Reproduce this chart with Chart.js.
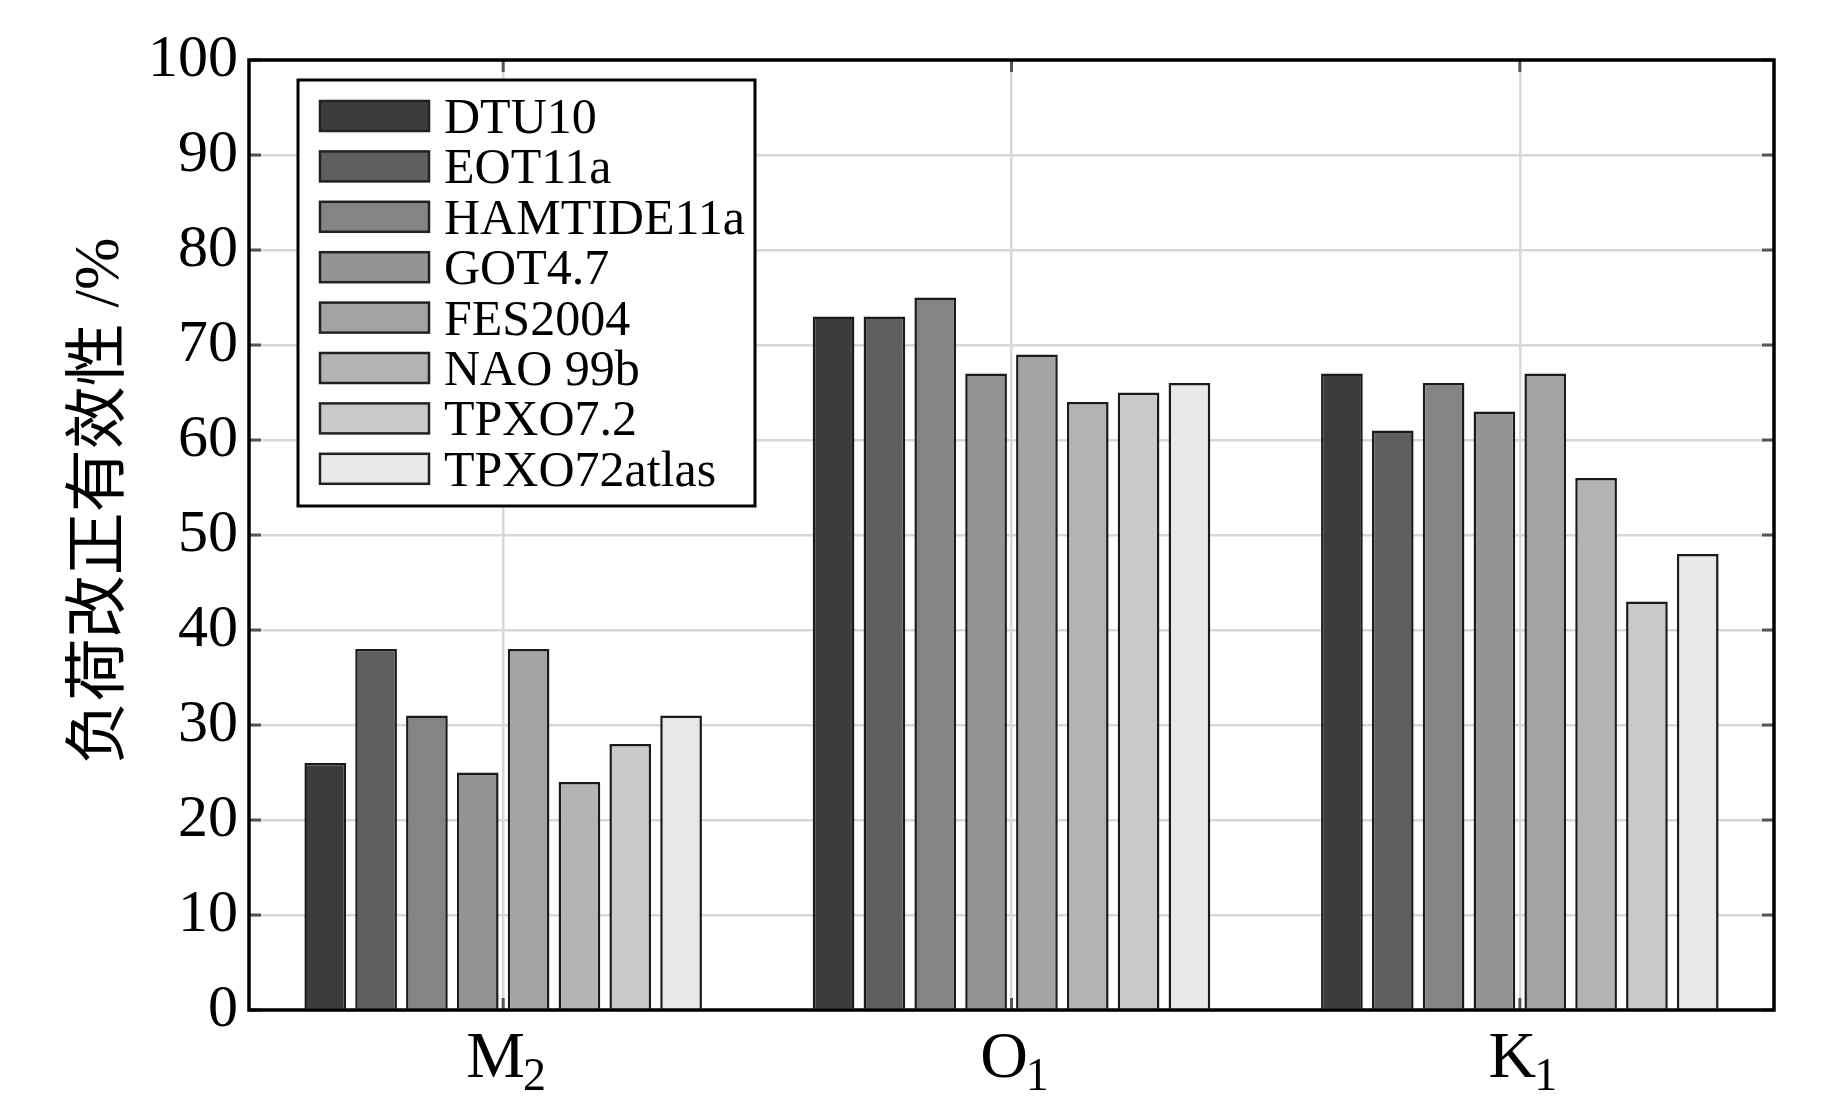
<!DOCTYPE html>
<html>
<head>
<meta charset="utf-8">
<script src="https://cdn.jsdelivr.net/npm/chart.js@4/dist/chart.umd.min.js"></script>
<style>
  html, body { margin: 0; padding: 0; background: #fff; }
  #wrap { width: 1843px; height: 1110px; }
</style>
</head>
<body>
<div id="wrap"><canvas id="chart"></canvas></div>
<script>
/* ===== Data ===== */
const constituents = ["M", "O", "K"];
const subscripts = ["2", "1", "1"];
const models = ["DTU10", "EOT11a", "HAMTIDE11a", "GOT4.7", "FES2004", "NAO 99b", "TPXO7.2", "TPXO72atlas"];
const dtu10 = [26, 73, 67];
const eot11a = [38, 73, 61];
const hamtide11a = [31, 75, 66];
const got47 = [25, 67, 63];
const fes2004 = [38, 69, 67];
const nao99b = [24, 64, 56];
const tpxo72 = [28, 65, 43];
const tpxo72atlas = [31, 66, 48];
const yTicks = [0, 10, 20, 30, 40, 50, 60, 70, 80, 90, 100];
const yTitle = "负荷改正有效性 /%";

const greys = ["#3c3c3c", "#5f5f5f", "#848484", "#949494", "#a3a3a3", "#b3b3b3", "#c9c9c9", "#e8e8e8"];
const seriesValues = [dtu10, eot11a, hamtide11a, got47, fes2004, nao99b, tpxo72, tpxo72atlas];

const SERIF = '"Liberation Serif", "Times New Roman", serif';
const PLOT = { left: 249, right: 1774, top: 60, bottom: 1010 };

/* ===== Plugin: box, inner ticks, subscript labels, legend, y title ===== */
const decor = {
  id: "decor",
  afterDraw(chart) {
    const ctx = chart.ctx;
    const a = chart.chartArea;
    const y = chart.scales.y;
    const x = chart.scales.x;
    ctx.save();

    // inner tick marks
    ctx.strokeStyle = "#555";
    ctx.lineWidth = 3;
    yTicks.forEach(v => {
      const py = y.getPixelForValue(v);
      ctx.beginPath();
      ctx.moveTo(a.left, py); ctx.lineTo(a.left + 12, py);
      ctx.moveTo(a.right, py); ctx.lineTo(a.right - 12, py);
      ctx.stroke();
    });
    constituents.forEach((c, i) => {
      const px = x.getPixelForValue(i);
      ctx.beginPath();
      ctx.moveTo(px, a.bottom); ctx.lineTo(px, a.bottom - 12);
      ctx.moveTo(px, a.top); ctx.lineTo(px, a.top + 12);
      ctx.stroke();
    });

    // axes box
    ctx.strokeStyle = "#000";
    ctx.lineWidth = 3.5;
    ctx.strokeRect(a.left, a.top, a.right - a.left, a.bottom - a.top);

    // x labels with subscripts
    ctx.fillStyle = "#000";
    ctx.textBaseline = "alphabetic";
    ctx.textAlign = "left";
    constituents.forEach((c, i) => {
      const px = x.getPixelForValue(i);
      ctx.font = "66px " + SERIF;
      const wm = ctx.measureText(c).width;
      ctx.font = "46px " + SERIF;
      const ws = ctx.measureText(subscripts[i]).width;
      const x0 = px - (wm + ws) / 2 + 4;
      ctx.font = "66px " + SERIF;
      ctx.fillText(c, x0, 1077);
      ctx.font = "46px " + SERIF;
      ctx.fillText(subscripts[i], x0 + wm - 2, 1090);
    });

    // legend
    const lg = { left: 298, top: 80, right: 755, bottom: 506 };
    ctx.fillStyle = "#fff";
    ctx.fillRect(lg.left, lg.top, lg.right - lg.left, lg.bottom - lg.top);
    ctx.strokeStyle = "#000";
    ctx.lineWidth = 3;
    ctx.strokeRect(lg.left, lg.top, lg.right - lg.left, lg.bottom - lg.top);
    chart.data.datasets.forEach((ds, i) => {
      const cy = 116 + i * 50.4;
      ctx.fillStyle = ds.backgroundColor;
      ctx.fillRect(320, cy - 15, 109, 30);
      ctx.strokeStyle = "#222";
      ctx.lineWidth = 2.5;
      ctx.strokeRect(320, cy - 15, 109, 30);
      ctx.fillStyle = "#000";
      ctx.font = "50px " + SERIF;
      ctx.fillText(ds.label, 444, cy + 17);
    });

    // y axis title
    ctx.translate(101, 501);
    ctx.rotate(-Math.PI / 2);
    ctx.textAlign = "center";
    ctx.textBaseline = "middle";
    ctx.font = '63px "Liberation Serif", "Noto Sans CJK SC", serif';
    ctx.fillText(yTitle, 0, 0);
    ctx.restore();
  }
};

/* ===== Chart ===== */
new Chart(document.getElementById("chart"), {
  type: "bar",
  data: {
    labels: constituents.map((c, i) => c + subscripts[i]),
    datasets: models.map((m, i) => ({
      label: m,
      data: seriesValues[i],
      backgroundColor: greys[i],
      borderColor: "#1a1a1a",
      borderWidth: 2.5,
      categoryPercentage: 0.8,
      barPercentage: 0.82
    }))
  },
  options: {
    responsive: true,
    maintainAspectRatio: false,
    animation: false,
    layout: { padding: { top: PLOT.top, right: 1843 - PLOT.right, left: 0, bottom: 0 } },
    plugins: { legend: { display: false }, tooltip: { enabled: false } },
    scales: {
      x: {
        grid: { color: "#d8d8d8", lineWidth: 2.5, offset: false, drawTicks: false },
        border: { display: false },
        ticks: { display: false },
        afterFit(scale) { scale.height = 1110 - PLOT.bottom; }
      },
      y: {
        min: 0, max: 100,
        grid: { color: "#d8d8d8", lineWidth: 2.5, drawTicks: false },
        border: { display: false },
        ticks: {
          stepSize: 10,
          padding: 11,
          color: "#000",
          font: { family: SERIF, size: 60 }
        },
        afterFit(scale) { scale.width = PLOT.left; }
      }
    }
  },
  plugins: [decor]
});
</script>
</body>
</html>
